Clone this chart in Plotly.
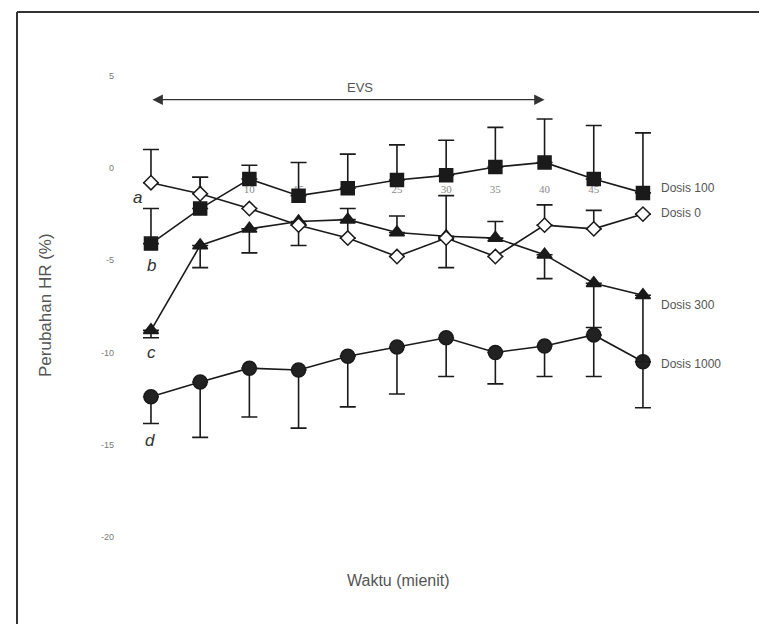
import plotly.graph_objects as go

# ---- data ----
waktu = [0, 5, 10, 15, 20, 25, 30, 35, 40, 45, 50]
x_tick_vals = [5, 10, 15, 20, 25, 30, 35, 40, 45, 50]
x_tick_text = ["5", "10", "15", "20", "25", "30", "35", "40", "45", "50"]
y_tick_vals = [5, 0, -5, -10, -15, -20]
y_tick_text = ["5", "0", "-5", "-10", "-15", "-20"]

dosis100 = [-4.1, -2.2, -0.6, -1.5, -1.1, -0.65, -0.4, 0.05, 0.3, -0.6, -1.35]
dosis100_up = [1.9, 1.7, 0.75, 1.8, 1.85, 1.9, 1.9, 2.15, 2.35, 2.9, 3.25]
dosis100_dn = [0, 0, 0, 0, 0, 0, 0, 0, 0, 0, 0]

dosis0 = [-0.8, -1.4, -2.2, -3.1, -3.8, -4.8, -3.8, -4.8, -3.1, -3.3, -2.5]
dosis0_up = [1.8, 0.9, 0, 0, 1.6, 0, 2.3, 0, 1.1, 1.0, 0]
dosis0_dn = [0, 0, 0, 0, 0, 0, 0, 0, 0, 0, 0]

dosis300 = [-8.8, -4.2, -3.3, -2.9, -2.8, -3.5, -3.7, -3.8, -4.7, -6.25, -6.9]
dosis300_up = [0, 0, 0, 0, 0, 0.9, 0, 0.9, 0, 0, 0]
dosis300_dn = [0.4, 1.2, 1.3, 1.3, 0, 0, 1.7, 0, 1.3, 2.4, 3.6]

dosis1000 = [-12.4, -11.6, -10.85, -10.95, -10.2, -9.7, -9.2, -10.0, -9.65, -9.05, -10.5]
dosis1000_up = [0, 0, 0, 0, 0, 0, 0, 0, 0, 0, 0]
dosis1000_dn = [1.45, 3.0, 2.65, 3.15, 2.75, 2.55, 2.1, 1.7, 1.65, 2.25, 2.5]

series_labels = ["Dosis 100", "Dosis 0", "Dosis 300", "Dosis 1000"]
series_label_y = [-1.1, -2.45, -7.4, -10.6]
letters = ["a", "b", "c", "d"]
letter_x = [-1.4, 0.1, 0.1, -0.1]
letter_y = [-1.6, -5.3, -10.0, -14.75]
evs_start, evs_end, evs_level = 0, 40, 3.7

# page is drawn with an 8px body margin; convert screen pixels to figure paper fractions
W, H, OFF = 767, 624, 8
def px(xs):
    return (xs - OFF) / W
def py(ys):
    return 1 - (ys - OFF) / H

# ---- figure ----
fig = go.Figure()

# x tick labels drawn beneath the data markers
fig.add_trace(go.Scatter(
    x=x_tick_vals, y=[-1.2] * len(x_tick_vals), mode="text", text=x_tick_text,
    textfont=dict(family="Liberation Serif", size=11, color="#8a8a8a"),
    hoverinfo="skip", showlegend=False))

def add_series(y, up, dn, symbol, size, fill, name):
    fig.add_trace(go.Scatter(
        x=waktu, y=y, mode="lines+markers", name=name, showlegend=False,
        line=dict(color="#1a1a1a", width=1.6),
        marker=dict(symbol=symbol, size=size, color=fill,
                    line=dict(color="#1a1a1a", width=1.5)),
        error_y=dict(type="data", symmetric=False, array=up, arrayminus=dn,
                     color="#1a1a1a", thickness=1.6, width=8)))

add_series(dosis1000, dosis1000_up, dosis1000_dn, "circle", 14, "#222222", "Dosis 1000")
add_series(dosis300, dosis300_up, dosis300_dn, "triangle-up", 13, "#1a1a1a", "Dosis 300")
add_series(dosis100, dosis100_up, dosis100_dn, "square", 13, "#1a1a1a", "Dosis 100")
add_series(dosis0, dosis0_up, dosis0_dn, "diamond", 11, "white", "Dosis 0")

annotations = []
for lab, yy in zip(series_labels, series_label_y):
    annotations.append(dict(x=51.6, y=yy, xref="x", yref="y", text=lab, showarrow=False,
                            xanchor="left", font=dict(family="Liberation Sans", size=12, color="#555555")))
for lt, xx, yy in zip(letters, letter_x, letter_y):
    annotations.append(dict(x=xx, y=yy, xref="x", yref="y", text="<i>" + lt + "</i>", showarrow=False,
                            font=dict(family="Liberation Sans", size=17, color="#333333")))
annotations.append(dict(x=evs_end, y=evs_level, ax=evs_start, ay=evs_level, xref="x", yref="y",
                        axref="x", ayref="y", text="", showarrow=True, arrowside="end+start",
                        arrowhead=2, arrowsize=1.6, arrowwidth=1.3, arrowcolor="#333333"))
annotations.append(dict(x=(evs_start + evs_end) / 2 + 1.2, y=evs_level + 0.65, xref="x", yref="y",
                        text="EVS", showarrow=False,
                        font=dict(family="Liberation Sans", size=13, color="#555555")))
annotations.append(dict(x=px(45), y=py(305), xref="paper", yref="paper", text="Perubahan HR (%)",
                        showarrow=False, textangle=-90, xanchor="center", yanchor="middle",
                        font=dict(family="Liberation Sans", size=17, color="#555555")))
annotations.append(dict(x=px(398), y=py(580), xref="paper", yref="paper", text="Waktu (mienit)",
                        showarrow=False, xanchor="center", yanchor="middle",
                        font=dict(family="Liberation Sans", size=16, color="#555555")))

shapes = [
    dict(type="line", xref="paper", yref="paper", x0=px(17), x1=px(17), y0=0, y1=py(12),
         line=dict(color="#333333", width=2)),
    dict(type="line", xref="paper", yref="paper", x0=px(17), x1=1, y0=py(12), y1=py(12),
         line=dict(color="#333333", width=2)),
]

# axis ranges chosen so that t=0 -> x=151px, t=50 -> 643px, y=0 -> 168px, 18.45 px per unit
fig.update_layout(
    width=W, height=H,
    margin=dict(l=0, r=0, t=0, b=0),
    paper_bgcolor="white", plot_bgcolor="white",
    showlegend=False,
    xaxis=dict(range=[-14.53, 63.42], visible=False),
    yaxis=dict(range=[-25.15, 8.67], anchor="free", position=px(114), side="left",
               tickvals=y_tick_vals, ticktext=y_tick_text, ticks="",
               showgrid=False, zeroline=False, showline=False,
               tickfont=dict(family="Liberation Sans", size=9, color="#7a7a7a")),
    annotations=annotations, shapes=shapes,
)

fig.write_html("out.html")
